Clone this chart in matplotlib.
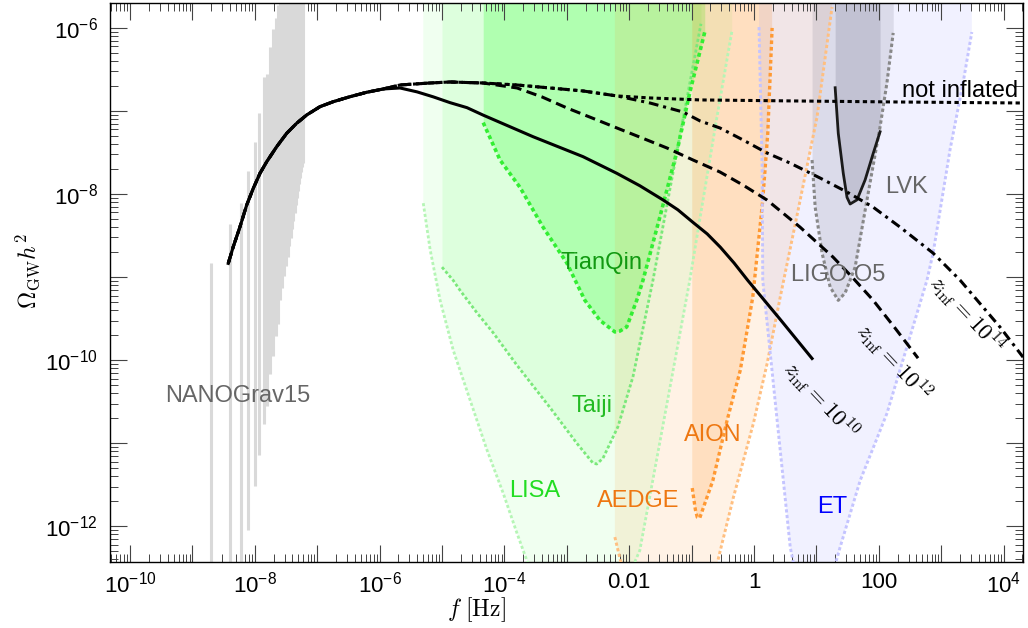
import numpy as np
import matplotlib
matplotlib.use("Agg")
import matplotlib.pyplot as plt
from matplotlib.ticker import FixedLocator, FuncFormatter, NullFormatter

plt.rcParams["font.family"] = ["Liberation Sans", "DejaVu Sans"]
plt.rcParams["mathtext.fontset"] = "cm"

# ---- NANOGrav15 violins (frequency, log10 lower / upper end)
nano_f = [1.98e-9, 3.96e-9, 5.94e-9, 7.92e-9, 9.90e-9, 11.88e-9, 13.86e-9, 15.84e-9,
          17.82e-9, 19.80e-9, 21.78e-9, 23.76e-9, 25.74e-9, 27.72e-9, 29.70e-9, 31.68e-9,
          33.66e-9, 35.64e-9, 37.62e-9, 39.60e-9, 41.58e-9, 43.56e-9, 45.54e-9, 47.52e-9,
          49.50e-9, 51.48e-9, 53.46e-9, 55.44e-9, 57.42e-9, 59.40e-9]
nano_top = [-8.83, -8.36, -8.11, -7.72, -7.37, -7.02, -6.59, -6.55, -6.23, -6.01,
            -5.88, -5.72, -5.5, -5.5, -5.5, -5.5, -5.5, -5.5, -5.5, -5.5,
            -5.5, -5.5, -5.5, -5.5, -5.5, -5.5, -5.5, -5.5, -5.5, -5.5]
nano_bot = [-13.0, -13.0, -13.0, -12.04, -11.52, -11.14, -10.77, -10.55, -10.17, -9.95,
            -9.71, -9.57, -9.28, -9.13, -8.99, -8.87, -8.76, -8.63, -8.53, -8.42,
            -8.33, -8.23, -8.13, -8.05, -7.96, -7.88, -7.81, -7.73, -7.67, -7.63]

# ---- detector sensitivity curves, log10 f [Hz] and log10 Omega h^2
lisa_f = [-5.30, -5.19, -5.03, -4.82, -4.55, -4.28, -4.02, -3.80, -3.55, -3.1, -2.7, -2.3,
          -1.83, -1.5, -1.03, -0.87, -0.60, -0.35]
lisa_o = [-8.11, -8.67, -9.28, -9.88, -10.48, -11.08, -11.60, -12.08, -12.6, -13.1, -13.3, -13.1,
          -12.29, -10.95, -9.04, -8.31, -7.10, -6.02]
taiji_f = [-5.0, -4.82, -4.71, -4.44, -4.18, -3.80, -3.27, -2.84, -2.58, -2.52, -2.42,
           -2.18, -1.94, -1.62, -1.35, -1.05, -0.85]
taiji_o = [-8.88, -9.04, -9.16, -9.43, -9.67, -10.06, -10.57, -11.0, -11.24, -11.25, -11.18,
           -10.8, -10.2, -9.04, -7.95, -6.75, -5.95]
tianqin_f = [-4.34, -4.07, -3.75, -3.38, -3.0, -2.71, -2.47, -2.23, -2.15, -2.04, -1.88,
             -1.78, -1.51, -1.23, -1.03, -0.79]
tianqin_o = [-7.14, -7.59, -7.92, -8.40, -8.83, -9.28, -9.52, -9.66, -9.65, -9.60, -9.28,
             -9.04, -8.28, -7.47, -6.78, -6.05]
aedge_f = [-2.23, -2.05, -1.7, -1.2, -0.8, -0.54, -0.33, -0.01, 0.21, 0.42, 0.74, 1.01, 1.25]
aedge_o = [-12.13, -12.7, -13.3, -13.5, -13.1, -12.29, -11.65, -10.76, -10.04, -9.24, -8.07,
           -7.07, -5.75]
aion_f = [-0.99, -0.94, -0.91, -0.87, -0.80, -0.66, -0.43, -0.22, -0.02, 0.14, 0.22, 0.29]
aion_o = [-11.54, -11.80, -11.89, -11.90, -11.75, -11.45, -10.72, -10.12, -9.24, -8.07, -7.27,
          -6.0]
et_f = [0.08, 0.13, 0.14, 0.36, 0.58, 0.70, 0.9, 1.1, 1.25, 1.38, 1.70, 2.13, 2.45, 2.77,
        2.87, 3.14, 3.35, 3.49]
et_o = [-5.99, -7.67, -9.04, -10.65, -12.25, -12.7, -12.95, -12.85, -12.6, -12.25, -11.45,
        -10.64, -9.84, -9.04, -8.71, -7.47, -6.66, -6.05]
ligo_f = [0.93, 0.98, 1.09, 1.22, 1.35, 1.46, 1.62, 1.81, 2.02, 2.13, 2.23]
ligo_o = [-7.59, -8.16, -8.71, -9.12, -9.28, -9.19, -8.88, -8.07, -7.19, -6.66, -6.06]
lvk_f = [1.30, 1.35, 1.43, 1.49, 1.54, 1.65, 1.78, 1.91, 2.02]
lvk_o = [-6.72, -7.27, -7.75, -8.04, -8.12, -8.07, -7.83, -7.51, -7.25]

# ---- GW spectra for different z_inf (shared low-frequency rise)
rise_f = [-8.425, -8.345, -8.237, -8.130, -8.024, -7.917, -7.809, -7.649, -7.489, -7.329,
          -7.168, -6.955, -6.742, -6.474, -6.207, -5.941]
rise_o = [-8.835, -8.635, -8.394, -8.133, -7.931, -7.751, -7.611, -7.430, -7.269, -7.148,
          -7.048, -6.948, -6.888, -6.828, -6.775, -6.735]
z10_f = rise_f + [-5.673, -5.40, -5.14, -4.87, -4.60, -4.34, -3.94, -3.54, -3.14, -2.74, -2.47,
                  -2.20, -1.83, -1.46, -1.22, -0.98, -0.75, -0.54, -0.32, -0.10, 0.42, 0.93]
z10_o = rise_o + [-6.723, -6.77, -6.83, -6.90, -6.96, -7.05, -7.18, -7.31, -7.43, -7.55, -7.65,
                  -7.75, -7.90, -8.07, -8.19, -8.34, -8.48, -8.64, -8.83, -9.04, -9.51, -9.98]
z12_f = rise_f + [-5.673, -5.192, -4.872, -4.343, -3.798, -3.397, -2.997, -2.596, -2.196,
                  -1.795, -1.394, -0.978, -0.545, -0.176, 0.208, 0.737, 1.266, 1.587, 1.907,
                  2.260, 2.628]
z12_o = rise_o + [-6.687, -6.663, -6.651, -6.663, -6.723, -6.831, -6.964, -7.084, -7.205,
                  -7.325, -7.446, -7.590, -7.735, -7.892, -8.072, -8.398, -8.759, -9.012,
                  -9.277, -9.614, -9.976]
z14_f = rise_f + [-5.673, -5.192, -4.872, -4.343, -3.798, -3.269, -2.740, -2.196, -1.667,
                  -1.138, -0.865, -0.545, -0.176, 0.208, 0.577, 1.058, 1.490, 1.907, 2.340,
                  2.869, 3.301, 3.574, 3.942, 4.311]
z14_o = rise_o + [-6.687, -6.663, -6.651, -6.663, -6.687, -6.723, -6.759, -6.819, -6.904,
                  -7.012, -7.120, -7.205, -7.349, -7.506, -7.627, -7.807, -7.976, -8.157,
                  -8.398, -8.711, -9.036, -9.277, -9.602, -9.964]
noinf_f = rise_f + [-5.673, -5.192, -4.872, -4.343, -3.798, -3.269, -2.740, -2.196, -1.667,
                    -0.865, 0.737, 2.340, 4.311]
noinf_o = rise_o + [-6.687, -6.663, -6.651, -6.663, -6.687, -6.723, -6.759, -6.819, -6.843,
                    -6.867, -6.880, -6.892, -6.904]


def p10(v):
    return 10.0 ** np.asarray(v)


fig = plt.figure(figsize=(10.28, 6.28), dpi=100)
ax = fig.add_axes([110 / 1028, 1 - 562 / 628, 913 / 1028, 559 / 628])
ax.set_xscale("log")
ax.set_yscale("log")
ax.set_xlim(10 ** -10.32, 10 ** 4.31)
ax.set_ylim(10 ** -12.43, 10 ** -5.70)

TOP = 1e-4
dots = (0, (1.1, 0.85))
detectors = [
    # f, omega, fill colour, alpha, line colour, lw
    (lisa_f, lisa_o, "#00ff00", 0.06, "#b5f5b5", 2.0),
    (taiji_f, taiji_o, "#00ff00", 0.08, "#7ae87a", 2.0),
    (tianqin_f, tianqin_o, "#00ff00", 0.20, "#33ee33", 2.6),
    (aedge_f, aedge_o, "#ff8000", 0.10, "#ffbf80", 2.1),
    (aion_f, aion_o, "#ff8000", 0.16, "#ff9933", 2.4),
    (et_f, et_o, "#6666ff", 0.09, "#c4c4ff", 2.1),
    (ligo_f, ligo_o, "#606078", 0.15, "#888888", 2.2),
]
for f, o, fc, a, lc, lw in detectors:
    ax.fill_between(p10(f), p10(o), TOP, color=fc, alpha=a, lw=0, zorder=1)
    ax.plot(p10(f), p10(o), color=lc, lw=lw, ls=dots, zorder=3)
ax.fill_between(p10(lvk_f), p10(lvk_o), TOP, color="#606078", alpha=0.2, lw=0, zorder=1)
ax.plot(p10(lvk_f), p10(lvk_o), color="#1a1a1a", lw=2.0, zorder=4)

ax.vlines(nano_f, p10(nano_bot), p10(nano_top), color="#d9d9d9", lw=2.2, zorder=2)

ax.plot(p10(noinf_f), p10(noinf_o), color="black", lw=2.2, ls=(0, (1.4, 1.1)), zorder=5)
ax.plot(p10(z14_f), p10(z14_o), color="black", lw=2.2, ls=(0, (3.2, 1.6, 1.0, 1.6)), zorder=5)
ax.plot(p10(z12_f), p10(z12_o), color="black", lw=2.2, ls=(0, (3.4, 1.8)), zorder=5)
ax.plot(p10(z10_f), p10(z10_o), color="black", lw=2.2, zorder=6)

fs = 17
labels = [
    ("NANOGrav15", -8.27, -10.43, "#666666"),
    ("TianQin", -2.45, -8.83, "#119911"),
    ("Taiji", -2.60, -10.55, "#22bb22"),
    ("LISA", -3.51, -11.57, "#22dd22"),
    ("AEDGE", -1.86, -11.70, "#ee7711"),
    ("AION", -0.67, -10.90, "#ee7711"),
    ("ET", 1.25, -11.77, "#0000ff"),
    ("LVK", 2.44, -7.92, "#666666"),
    ("LIGO O5", 1.35, -8.98, "#666666"),
    ("not inflated", 3.30, -6.76, "black"),
]
for txt, lf, lo, c in labels:
    ax.text(10 ** lf, 10 ** lo, txt, color=c, fontsize=fs, ha="center", va="center", zorder=7)

for txt, lf, lo in [(r"$z_{\rm inf}=10^{10}$", 1.06, -10.48),
                    (r"$z_{\rm inf}=10^{12}$", 2.24, -10.02),
                    (r"$z_{\rm inf}=10^{14}$", 3.40, -9.45)]:
    ax.text(10 ** lf, 10 ** lo, txt, fontsize=16.5, rotation=-47, ha="center", va="center",
            rotation_mode="anchor", zorder=7)

# ticks: every decade, labels every second decade
x_major = [10.0 ** e for e in range(-11, 6)]
y_major = [10.0 ** e for e in range(-13, -4)]
ax.xaxis.set_major_locator(FixedLocator(x_major))
ax.yaxis.set_major_locator(FixedLocator(y_major))
ax.xaxis.set_minor_locator(FixedLocator([m * d for d in x_major for m in range(2, 10)]))
ax.yaxis.set_minor_locator(FixedLocator([m * d for d in y_major for m in range(2, 10)]))


def xfmt(v, pos):
    e = int(round(np.log10(v)))
    if e % 2:
        return ""
    if e == -2:
        return "0.01"
    if e == 0:
        return "1"
    if e == 2:
        return "100"
    return r"$\mathregular{10^{%d}}$" % e


def yfmt(v, pos):
    e = int(round(np.log10(v)))
    if e % 2:
        return ""
    return r"$\mathregular{10^{%d}}$" % e


ax.xaxis.set_major_formatter(FuncFormatter(xfmt))
ax.yaxis.set_major_formatter(FuncFormatter(yfmt))
ax.xaxis.set_minor_formatter(NullFormatter())
ax.yaxis.set_minor_formatter(NullFormatter())
ax.tick_params(which="both", direction="in", top=True, right=True, color="#444444",
               labelsize=16)
ax.tick_params(which="major", length=12, width=0.8)
ax.tick_params(which="minor", length=5.5, width=0.7)
ax.tick_params(axis="x", pad=7)
ax.tick_params(axis="y", pad=9)
for s in ax.spines.values():
    s.set_linewidth(1.0)

ax.set_xlabel(r"$f\ [\mathrm{Hz}]$", fontsize=17)
ax.set_ylabel(r"$\Omega_{\rm GW}h^2$", fontsize=17)
ax.xaxis.set_label_coords(0.401, -0.06)
ax.yaxis.set_label_coords(-0.075, 0.52)

fig.savefig("out.png", dpi=100)
